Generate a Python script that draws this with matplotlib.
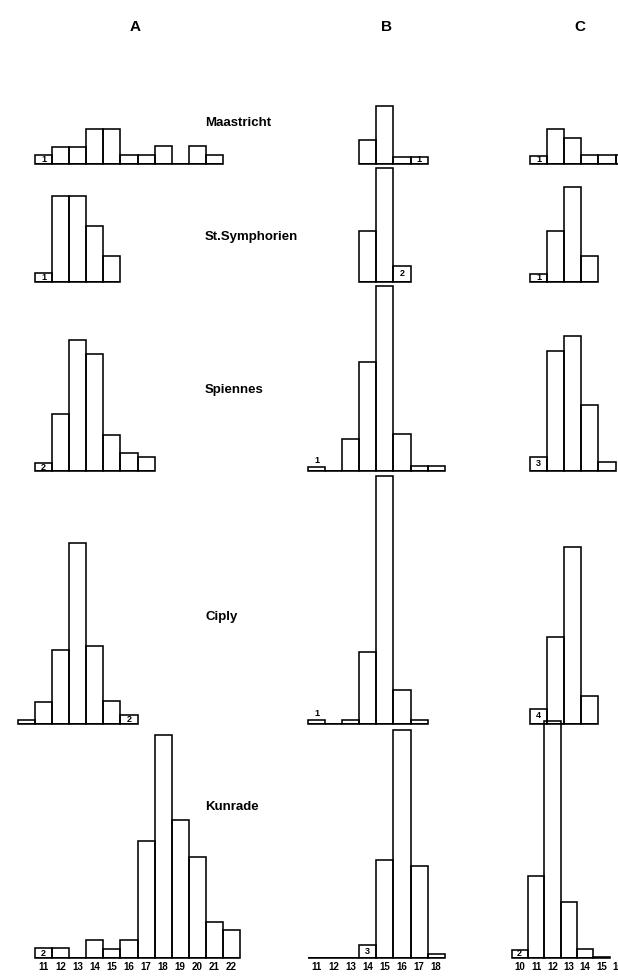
import matplotlib
matplotlib.use("Agg")
import matplotlib.pyplot as plt

plt.rcParams['font.family'] = ['Liberation Sans', 'DejaVu Sans']

# ========== DATA (bar heights) ==========
LOCALITIES = ["Maastricht", "St.Symphorien", "Spiennes", "Ciply", "Kunrade"]
COLUMNS = ["A", "B", "C"]

# first class of each histogram, top to bottom
A_START = [11, 11, 11, 10, 11]
B_START = [14, 14, 11, 11, 11]
C_START = [11, 11, 11, 11, 10]

A_MAASTRICHT = [9, 17, 17, 35, 35, 9, 9, 18, 0, 18, 9]
A_SYMPHORIEN = [9, 86, 86, 56, 26]
A_SPIENNES = [8, 57, 131, 117, 36, 18, 14]
A_CIPLY = [4, 22, 74, 181, 78, 23, 9]
A_KUNRADE = [10, 10, 0, 18, 9, 18, 117, 223, 138, 101, 36, 28]

B_MAASTRICHT = [24, 58, 7, 7]
B_SYMPHORIEN = [51, 114, 16]
B_SPIENNES = [4, 0, 32, 109, 185, 37, 5, 5]
B_CIPLY = [4, 0, 4, 72, 248, 34, 4]
B_KUNRADE = [0, 0, 0, 13, 98, 228, 92, 4]

C_MAASTRICHT = [8, 35, 26, 9, 9, 9]
C_SYMPHORIEN = [8, 51, 95, 26]
C_SPIENNES = [14, 120, 135, 66, 9]
C_CIPLY = [15, 87, 177, 28]
C_KUNRADE = [8, 82, 237, 56, 9, 1.5]

# small counts written in (or above) the low bars: (row, class, text)
A_NOTES = [(0, 11, "1"), (1, 11, "1"), (2, 11, "2"), (3, 16, "2"), (4, 11, "2")]
B_NOTES = [(0, 17, "1"), (1, 16, "2"), (2, 11, "1"), (3, 11, "1"), (4, 14, "3")]
C_NOTES = [(0, 11, "1"), (1, 11, "1"), (2, 11, "3"), (3, 11, "4"), (4, 10, "2")]

A_TICKS = list(range(11, 23))
B_TICKS = list(range(11, 19))
C_TICKS = list(range(10, 17))

HIST = {
    "A": (A_START, [A_MAASTRICHT, A_SYMPHORIEN, A_SPIENNES, A_CIPLY, A_KUNRADE], A_NOTES, A_TICKS),
    "B": (B_START, [B_MAASTRICHT, B_SYMPHORIEN, B_SPIENNES, B_CIPLY, B_KUNRADE], B_NOTES, B_TICKS),
    "C": (C_START, [C_MAASTRICHT, C_SYMPHORIEN, C_SPIENNES, C_CIPLY, C_KUNRADE], C_NOTES, C_TICKS),
}

# ========== LAYOUT (pixels, from top-left) ==========
W, H = 618, 977
BIN_W = 17.1
ROW_BASE = [163.5, 282, 471, 723.5, 958]
ROW_H = 260
# column: left px, right px, reference class, centre px of that class
COL_SPAN = {"A": (0, 275, 11, 43.5), "B": (285, 475, 11, 316.5), "C": (480, 618, 10, 521.5)}
LABEL_X = 205
LABEL_Y = [123, 237, 390, 617, 807]
HEAD_X = [135, 386, 580]
HEAD_Y = 27
LW = 1.15

fig = plt.figure(figsize=(W / 100, H / 100), dpi=100)

for col in COLUMNS:
    starts, series, notes, ticks = HIST[col]
    xl, xr, b0, c0 = COL_SPAN[col]
    for ri, vals in enumerate(series):
        base = ROW_BASE[ri]
        ax = fig.add_axes([xl / W, 1 - base / H, (xr - xl) / W, ROW_H / H])
        ax.set_xlim(b0 + (xl - c0) / BIN_W, b0 + (xr - c0) / BIN_W)
        ax.set_ylim(0, ROW_H)
        ax.patch.set_alpha(0)
        for s in ax.spines.values():
            s.set_visible(False)
        ax.set_yticks([])

        bins = list(range(starts[ri], starts[ri] + len(vals)))
        ax.bar(bins, vals, width=1.0, facecolor='none', edgecolor='black',
               linewidth=LW, clip_on=False)
        ax.hlines(0, bins[0] - 0.5, bins[-1] + 0.5, color='black', linewidth=LW * 1.2)

        for r, b, t in notes:
            if r != ri:
                continue
            h = vals[b - starts[ri]]
            if h >= 7:
                ax.text(b, h / 2, t, ha='center', va='center', fontsize=6.5,
                        fontweight='bold', clip_on=False)
            else:
                ax.text(b, h + 2, t, ha='center', va='bottom', fontsize=6.5,
                        fontweight='bold', clip_on=False)

        if ri == len(series) - 1:
            ax.set_xticks(ticks)
            ax.set_xticklabels([str(t) for t in ticks], fontsize=7, fontweight='bold')
            ax.tick_params(axis='x', length=0, pad=3)
        else:
            ax.set_xticks([])

for name, y in zip(LOCALITIES, LABEL_Y):
    fig.text(LABEL_X / W, 1 - y / H, name, ha='left', va='center',
             fontsize=9.5, fontweight='bold')

for letter, x in zip(COLUMNS, HEAD_X):
    fig.text(x / W, 1 - HEAD_Y / H, letter, ha='center', va='center',
             fontsize=11, fontweight='bold')

fig.savefig("out.png", dpi=100)
